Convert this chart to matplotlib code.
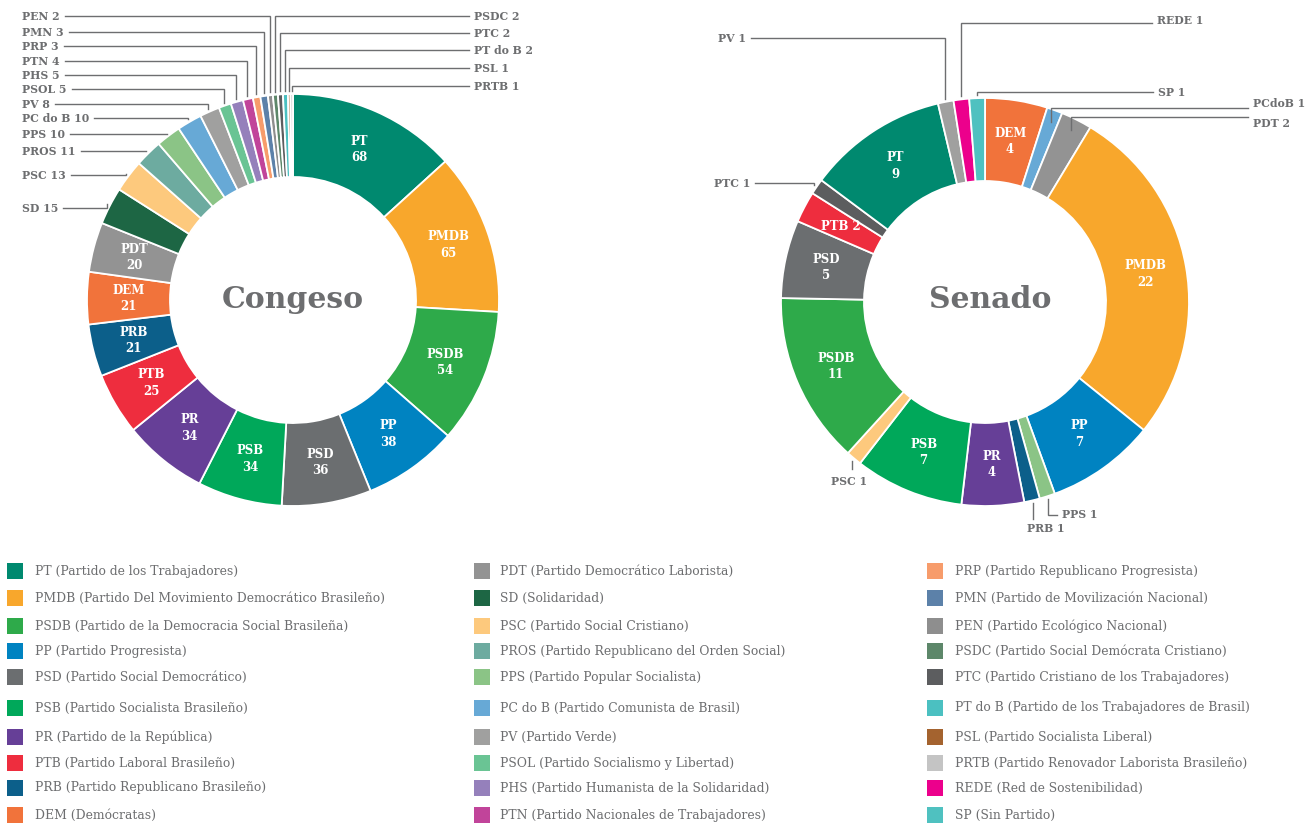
import matplotlib
matplotlib.use("Agg")
import matplotlib.pyplot as plt
import numpy as np

# Congreso (Cámara de Diputados), en sentido horario desde arriba
congreso_partidos = ["PT", "PMDB", "PSDB", "PP", "PSD", "PSB", "PR", "PTB", "PRB", "DEM",
                     "PDT", "SD", "PSC", "PROS", "PPS", "PC do B", "PV", "PSOL", "PHS", "PTN",
                     "PRP", "PMN", "PEN", "PSDC", "PTC", "PT do B", "PSL", "PRTB"]
congreso_escanos = [68, 65, 54, 38, 36, 34, 34, 25, 21, 21,
                    20, 15, 13, 11, 10, 10, 8, 5, 5, 4,
                    3, 3, 2, 2, 2, 2, 1, 1]

# Senado, en sentido horario desde arriba
senado_partidos = ["DEM", "PC do B", "PDT", "PMDB", "PP", "PPS", "PRB", "PR", "PSB", "PSC",
                   "PSDB", "PSD", "PTB", "PTC", "PT", "PV", "REDE", "SP"]
senado_escanos = [4, 1, 2, 22, 7, 1, 1, 4, 7, 1, 11, 5, 2, 1, 9, 1, 1, 1]

colores = {
    "PT": "#00896f", "PMDB": "#f8a72c", "PSDB": "#2eaa4a", "PP": "#0083c1",
    "PSD": "#6b6e70", "PSB": "#00a85a", "PR": "#663f97", "PTB": "#ee2d3e",
    "PRB": "#0c5f8a", "DEM": "#f1733b", "PDT": "#939393", "SD": "#1d6644",
    "PSC": "#fdc97d", "PROS": "#6daba0", "PPS": "#8bc486", "PC do B": "#67a9d6",
    "PV": "#a0a09f", "PSOL": "#6ac494", "PHS": "#9580bb", "PTN": "#c1449a",
    "PRP": "#f79c6b", "PMN": "#5c81a9", "PEN": "#8e8e8e", "PSDC": "#5d876a",
    "PTC": "#5c5d5f", "PT do B": "#4bc0c1", "PSL": "#a4632f", "PRTB": "#c4c4c4",
    "REDE": "#ec008c", "SP": "#4fc1c0",
}

leyenda_siglas = ["PT", "PMDB", "PSDB", "PP", "PSD", "PSB", "PR", "PTB", "PRB", "DEM",
                  "PDT", "SD", "PSC", "PROS", "PPS", "PC do B", "PV", "PSOL", "PHS", "PTN",
                  "PRP", "PMN", "PEN", "PSDC", "PTC", "PT do B", "PSL", "PRTB", "REDE", "SP"]
leyenda_nombres = [
    "Partido de los Trabajadores", "Partido Del Movimiento Democrático Brasileño",
    "Partido de la Democracia Social Brasileña", "Partido Progresista",
    "Partido Social Democrático", "Partido Socialista Brasileño", "Partido de la República",
    "Partido Laboral Brasileño", "Partido Republicano Brasileño", "Demócratas",
    "Partido Democrático Laborista", "Solidaridad", "Partido Social Cristiano",
    "Partido Republicano del Orden Social", "Partido Popular Socialista",
    "Partido Comunista de Brasil", "Partido Verde", "Partido Socialismo y Libertad",
    "Partido Humanista de la Solidaridad", "Partido Nacionales de Trabajadores",
    "Partido Republicano Progresista", "Partido de Movilización Nacional",
    "Partido Ecológico Nacional", "Partido Social Demócrata Cristiano",
    "Partido Cristiano de los Trabajadores", "Partido de los Trabajadores de Brasil",
    "Partido Socialista Liberal", "Partido Renovador Laborista Brasileño",
    "Red de Sostenibilidad", "Sin Partido"]

# etiquetas dentro de los sectores
congreso_dentro = ["PT", "PMDB", "PSDB", "PP", "PSD", "PSB", "PR", "PTB", "PRB", "DEM", "PDT"]
senado_dentro = ["DEM", "PMDB", "PP", "PR", "PSB", "PSDB", "PSD", "PTB", "PT"]

GRIS = "#6d6e70"
FUENTE = "DejaVu Serif"

fig = plt.figure(figsize=(13.09, 8.23), dpi=100)
ax = fig.add_axes([0, 0, 1, 1])


def dona(cx, cy, R, r, partidos, valores):
    ax.pie(valores, colors=[colores[p] for p in partidos], radius=R, center=(cx, cy),
           startangle=-90, counterclock=True,
           wedgeprops=dict(width=R - r, edgecolor="white", linewidth=1.3))
    v = np.array(valores, dtype=float)
    mid = np.cumsum(v) - v / 2
    return dict(zip(partidos, np.deg2rad(-90 + 360 * mid / v.sum())))


cong = dict(cx=293, cy=300, R=206, r=123)
sen = dict(cx=985, cy=302, R=204, r=121)
ang_c = dona(cong["cx"], cong["cy"], cong["R"], cong["r"], congreso_partidos, congreso_escanos)
ang_s = dona(sen["cx"], sen["cy"], sen["R"], sen["r"], senado_partidos, senado_escanos)

ax.set_xlim(0, 1309)
ax.set_ylim(823, 0)
ax.axis("off")


def etiquetas_dentro(g, ang, partidos, valores, dentro, una_linea=()):
    rm = (g["R"] + g["r"]) / 2
    for p, v in zip(partidos, valores):
        if p not in dentro:
            continue
        x = g["cx"] + rm * np.cos(ang[p])
        y = g["cy"] + rm * np.sin(ang[p])
        txt = f"{p} {v}" if p in una_linea else f"{p}\n{v}"
        ax.text(x, y, txt, color="white", fontsize=8.5, fontweight="bold", family=FUENTE,
                ha="center", va="center", linespacing=1.35)


etiquetas_dentro(cong, ang_c, congreso_partidos, congreso_escanos, congreso_dentro)
etiquetas_dentro(sen, ang_s, senado_partidos, senado_escanos, senado_dentro, una_linea=("PTB",))

ax.text(293, 300, "Congeso", color=GRIS, fontsize=21.5, fontweight="bold", family=FUENTE,
        ha="center", va="center")
ax.text(990, 300, "Senado", color=GRIS, fontsize=21.5, fontweight="bold", family=FUENTE,
        ha="center", va="center")

# etiquetas exteriores: (partido, texto, x, y, alineación, y de la línea, desfase del radio)
val_c = dict(zip(congreso_partidos, congreso_escanos))
val_s = dict(zip(senado_partidos, senado_escanos))
izq_c = [("PEN", 16), ("PMN", 32), ("PRP", 46), ("PTN", 61), ("PHS", 75), ("PSOL", 89),
         ("PV", 104), ("PC do B", 118), ("PPS", 134), ("PROS", 151), ("PSC", 175), ("SD", 208)]
der_c = [("PSDC", 16), ("PTC", 33), ("PT do B", 50), ("PSL", 68), ("PRTB", 86)]
ext_c = [(p, f"{p} {val_c[p]}", 22, y, "left", y, 3) for p, y in izq_c]
ext_c += [(p, f"{p} {val_c[p]}", 474, y, "left", y, 3) for p, y in der_c]
ext_s = [
    ("PV", "PV 1", 718, 38, "left", 38, 3),
    ("REDE", "REDE 1", 1157, 20, "left", 23, 3),
    ("SP", "SP 1", 1158, 92, "left", 92, 3),
    ("PC do B", "PCdoB 1", 1253, 103, "left", 108, -12),
    ("PDT", "PDT 2", 1253, 123, "left", 117, -12),
    ("PTC", "PTC 1", 714, 183, "left", 183, 3),
    ("PSC", "PSC 1", 849, 481, "center", 469, 3),
    ("PRB", "PRB 1", 1046, 528, "center", 519, 3),
    ("PPS", "PPS 1", 1062, 515, "left", 515, 3),
]

fig.canvas.draw()
ren = fig.canvas.get_renderer()
inv = ax.transData.inverted()

for g, ang, lista in ((cong, ang_c, ext_c), (sen, ang_s, ext_s)):
    for p, txt, tx, ty, ha, ly, roff in lista:
        t = ax.text(tx, ty, txt, color=GRIS, fontsize=7.8, fontweight="bold", family=FUENTE,
                    ha=ha, va="center")
        bb = t.get_window_extent(ren)
        (x0, _), (x1, _) = inv.transform([[bb.x0, bb.y0], [bb.x1, bb.y1]])
        ra = g["R"] + roff
        axp = g["cx"] + ra * np.cos(ang[p])
        ayp = g["cy"] + ra * np.sin(ang[p])
        if ha == "center":
            xs, ys = [axp, axp], [ayp, ly]
        elif tx > axp:
            xs, ys = [axp, axp, x0 - 5], [ayp, ly, ly]
        else:
            xs, ys = [x1 + 5, axp, axp], [ly, ly, ayp]
        ax.plot(xs, ys, color=GRIS, lw=1.0, solid_joinstyle="miter")

# leyenda en tres columnas
filas_y = [571, 598, 626, 651, 677, 708, 737, 763, 788, 815]
col_cuadro = [15, 482, 935]
col_texto = [35, 500, 955]
for i, (s, n) in enumerate(zip(leyenda_siglas, leyenda_nombres)):
    c, f = divmod(i, 10)
    ax.scatter([col_cuadro[c]], [filas_y[f]], marker="s", s=120, color=colores[s],
               linewidths=0)
    ax.text(col_texto[c], filas_y[f], f"{s} ({n})", color=GRIS, fontsize=8.9, family=FUENTE,
            ha="left", va="center")

fig.savefig("out.png", dpi=100)
